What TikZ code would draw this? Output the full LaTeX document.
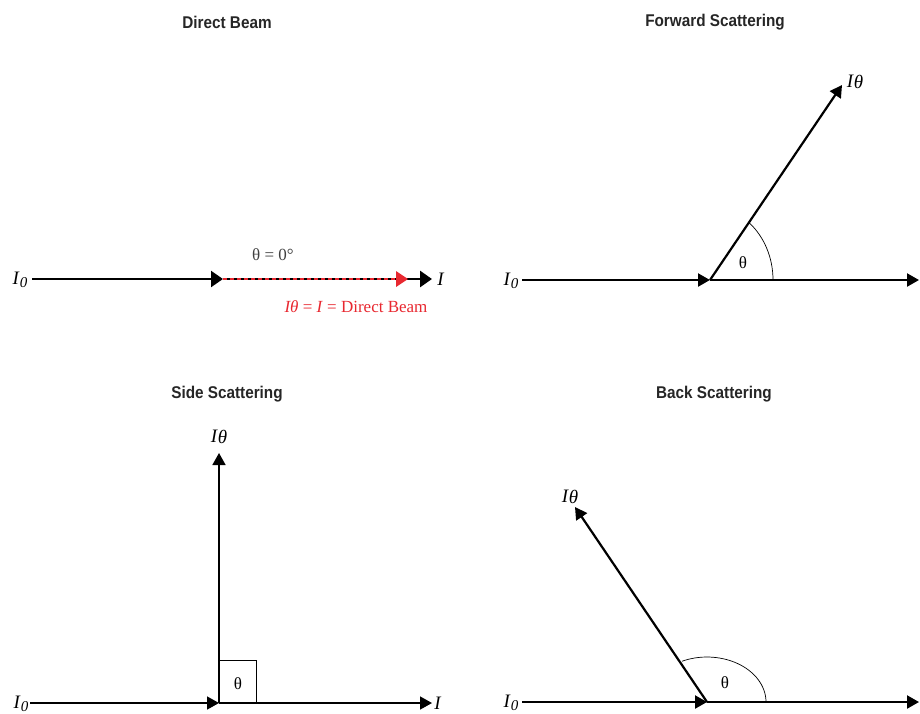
\documentclass[tikz,border=0pt]{standalone}
\usepackage{fontspec}
\usepackage{graphicx}
\setmainfont{Liberation Serif}
\newfontfamily\titlefont{Liberation Sans}
\usetikzlibrary{arrows.meta}
\definecolor{beamred}{RGB}{232,40,48}
\newcommand\IZlab{\textit{I}\raisebox{-0.3ex}{\textit{\fontsize{15}{16}\selectfont 0}}}
\newcommand\ITlab{\textit{I}\raisebox{-0.15ex}{\textit{θ}}}
\newcommand\ttltext[1]{\scalebox{0.9}[1]{#1}}
\begin{document}
\begin{tikzpicture}[x=1pt,y=-1pt,
  beam/.style={line width=2.2pt,draw=black},
  thinbeam/.style={line width=1.6pt,draw=black},
  tipbig/.style={-{Triangle[length=12pt,width=16pt]}},
  tip/.style={-{Triangle[length=12pt,width=13pt]}},
  thinline/.style={line width=0.7pt,draw=black},
  ttl/.style={font=\titlefont\bfseries\fontsize{17}{20}\selectfont,text=black!85},
  lab/.style={font=\fontsize{19}{21}\selectfont,inner sep=0pt},
  sml/.style={font=\fontsize{17}{19}\selectfont,inner sep=0pt}]
\useasboundingbox (0,0) rectangle (920,713);

% titles
\node[ttl] (t1) at (227,22) {\ttltext{Direct Beam}};
\node[ttl] (t2) at (715,22) {\ttltext{Forward Scattering}};
\node[ttl] (t3) at (227,394) {\ttltext{Side Scattering}};
\node[ttl] (t4) at (714,394) {\ttltext{Back Scattering}};

% ---------- Direct beam ----------
\coordinate (a0) at (32,279);
\coordinate (a1) at (223,279);
\coordinate (a2) at (408,279);
\coordinate (a3) at (432,279);
\node[lab] (aI0) at (20,280) {\IZlab};
\node[lab] (aI) at (441,279) {\textit{I}};
\draw[beam,tipbig] (a0) -- (a1);
\draw[line width=2.8pt,draw=black,-{Triangle[length=12pt,width=16pt]}] (a1) -- (a3);
\draw[line width=2.8pt,beamred,dash pattern=on 4pt off 3pt] (a1) -- ([xshift=-11pt]a2);
\fill[beamred] (a2) -- ++(-12pt,-8pt) -- ++(0pt,16pt) -- cycle;
\node[sml,text=black!75] (aang) at (273,255) {θ = 0°};
\node[sml,text=beamred] (alab) at (356,307) {\textit{Iθ} = \textit{I} = Direct Beam};

% ---------- Forward scattering ----------
\coordinate (b0) at (522,280);
\coordinate (bO) at (710,280);
\coordinate (b1) at (919,280);
\coordinate (bs) at (842,85);
\node[lab] (bI0) at (511,281) {\IZlab};
\node[lab] (bIt) at (855,82) {\ITlab};
\draw[beam,tip] (b0) -- (bO);
\draw[beam,tip] (bO) -- (b1);
\draw[beam,tip] (bO) -- (bs);
\draw[thinline] (bO) ++(63pt,0pt) arc[start angle=0,end angle=52,x radius=63pt,y radius=73pt];
\node[sml] (bth) at (743,263) {θ};

% ---------- Side scattering ----------
\coordinate (c0) at (30,703);
\coordinate (cO) at (219,703);
\coordinate (c1) at (432,703);
\coordinate (cs) at (219,453);
\coordinate (cb) at (256,660);
\node[lab] (cI0) at (21,704) {\IZlab};
\node[lab] (cI) at (438,703) {\textit{I}};
\node[lab] (cIt) at (219,437) {\ITlab};
\draw[thinbeam,tip] (c0) -- (cO);
\draw[thinbeam,tip] (cO) -- (c1);
\draw[thinbeam,tip] (cO) -- (cs);
\draw[thinline] (cO) rectangle (cb);
\node[sml] (cth) at (238,684) {θ};

% ---------- Back scattering ----------
\coordinate (d0) at (522,702);
\coordinate (dO) at (707,702);
\coordinate (d1) at (919,702);
\coordinate (ds) at (575,507);
\node[lab] (dI0) at (511,703) {\IZlab};
\node[lab] (dIt) at (570,497) {\ITlab};
\draw[beam,tip] (d0) -- (dO);
\draw[beam,tip] (dO) -- (d1);
\draw[beam,tip] (dO) -- (ds);
\draw[thinline] (dO) ++(59pt,0pt) arc[start angle=0,end angle=115,x radius=59pt,y radius=45pt];
\node[sml] (dth) at (725,683) {θ};
\end{tikzpicture}
\end{document}
